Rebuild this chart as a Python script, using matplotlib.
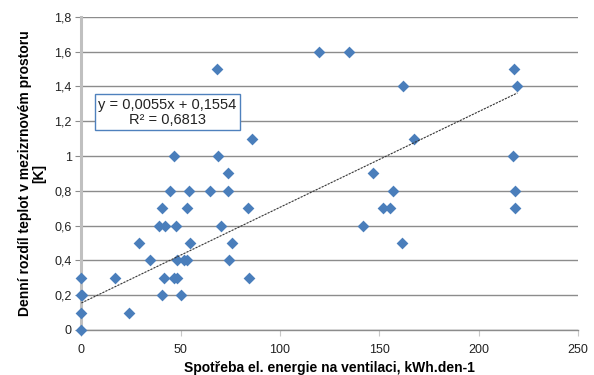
import matplotlib.pyplot as plt

plt.rcParams['font.family'] = ['Liberation Sans', 'DejaVu Sans']

# daily energy for ventilation [kWh/day] and daily temperature difference [K]
energy = [0, 0, 0, 0, 0.5, 16.8, 24.2, 29, 34.3, 39.1, 40.7, 40.7, 41.6, 42.1,
          44.4, 46.6, 46.5, 48.3, 47.5, 48, 50, 51.7, 53, 53.4, 54.2, 54.5,
          64.8, 68.2, 69, 70.5, 73.6, 73.6, 74.4, 75.6, 83.7, 84.5, 85.7,
          119.4, 134.5, 141.8, 146.8, 151.8, 155.2, 157, 161.8, 161.3, 167.5,
          217.2, 218, 219.5, 218.5, 218.5]
temp_diff = [0, 0.1, 0.2, 0.3, 0.2, 0.3, 0.1, 0.5, 0.4, 0.6, 0.7, 0.2, 0.3, 0.6,
             0.8, 1.0, 0.3, 0.3, 0.6, 0.4, 0.2, 0.4, 0.4, 0.7, 0.8, 0.5,
             0.8, 1.5, 1.0, 0.6, 0.9, 0.8, 0.4, 0.5, 0.7, 0.3, 1.1,
             1.6, 1.6, 0.6, 0.9, 0.7, 0.7, 0.8, 1.4, 0.5, 1.1,
             1.0, 1.5, 1.4, 0.8, 0.7]

slope = 0.0055
intercept = 0.1554
r2 = 0.6813

y_ticks = [0, 0.2, 0.4, 0.6, 0.8, 1, 1.2, 1.4, 1.6, 1.8]
y_labels = ['0', '0,2', '0,4', '0,6', '0,8', '1', '1,2', '1,4', '1,6', '1,8']
x_ticks = [0, 50, 100, 150, 200, 250]

fig = plt.figure(figsize=(5.94, 3.75), dpi=100)
ax = fig.add_axes([0.137, 0.12, 0.836, 0.835])

ax.set_xlim(0, 250)
ax.set_ylim(0, 1.8)
ax.set_yticks(y_ticks)
ax.set_yticklabels(y_labels)
ax.set_xticks(x_ticks)

ax.grid(axis='y', color='#8c8c8c', lw=1)
ax.set_axisbelow(True)
for s in ['top', 'right']:
    ax.spines[s].set_visible(False)
ax.spines['left'].set_color('#c0c0c0')
ax.spines['left'].set_linewidth(2.2)
ax.spines['bottom'].set_color('#8c8c8c')
ax.spines['bottom'].set_linewidth(1)
ax.tick_params(axis='y', length=4, color='#8c8c8c', labelsize=9, colors='#222222', pad=3)
ax.tick_params(axis='x', length=4, color='#c8c8c8', labelsize=9, colors='#222222', pad=6)

ax.scatter(energy, temp_diff, marker='D', s=36, color='#4a7ebb', zorder=3,
           clip_on=False, linewidths=0)

xs = [0, max(energy)]
ax.plot(xs, [slope * x + intercept for x in xs], color='#333333', lw=0.8,
        ls=(0, (2, 1)), zorder=4)

eq = 'y = %sx + %s\nR² = %s' % (
    ('%.4f' % slope).replace('.', ','),
    ('%.4f' % intercept).replace('.', ','),
    ('%.4f' % r2).replace('.', ','))
ax.text(0.173, 0.696, eq, transform=ax.transAxes, ha='center', va='center',
        fontsize=10.5, linespacing=1.1, zorder=5, color='#222222',
        bbox=dict(boxstyle='square,pad=0.25', fc='white', ec='#4f81bd', lw=1))

ax.set_xlabel('Spotřeba el. energie na ventilaci, kWh.den-1', fontsize=10,
              fontweight='bold', labelpad=4)
ax.set_ylabel('Denní rozdíl teplot v mezizrnovém prostoru\n[K]', fontsize=10,
              fontweight='bold', linespacing=1.0, labelpad=6)

plt.savefig('out.png')
